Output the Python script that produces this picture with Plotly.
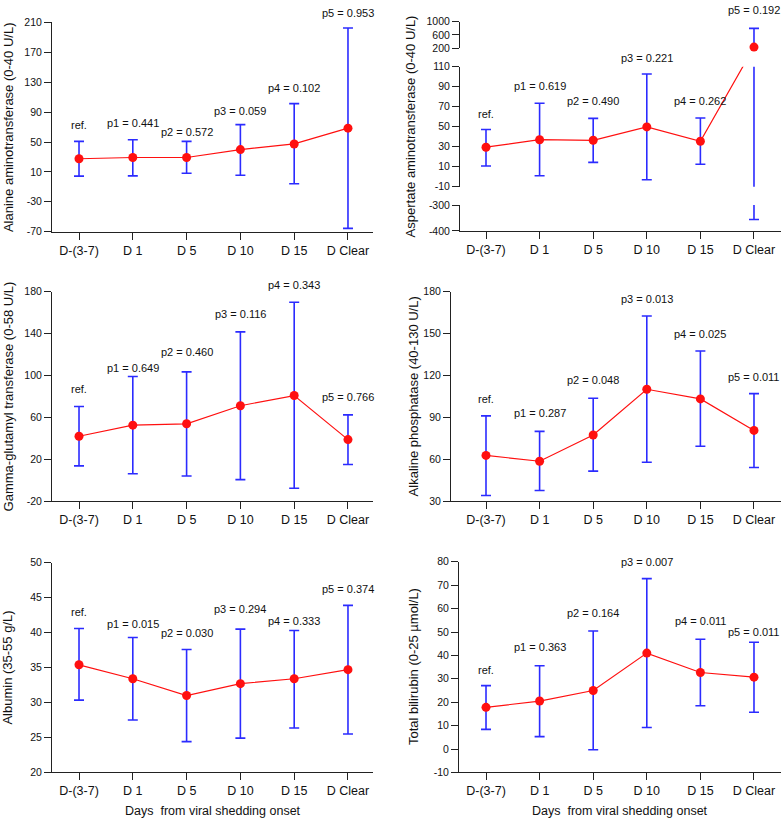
import plotly.graph_objects as go

# ---------------- data ----------------
categories = ["D-(3-7)", "D 1", "D 5", "D 10", "D 15", "D Clear"]

alt_mean = [27.6, 29.3, 29.3, 39.9, 47.4, 68.5]
alt_upper = [50.9, 53.1, 50.9, 73.3, 101.4, 202.5]
alt_lower = [4.3, 4.7, 8.2, 5.6, -5.8, -65.6]
alt_p = ["ref.", "p1 = 0.441", "p2 = 0.572", "p3 = 0.059", "p4 = 0.102", "p5 = 0.953"]
alt_ticks = [-70, -30, 10, 50, 90, 130, 170, 210]

ast_mean = [29.5, 37.0, 36.4, 49.8, 35.4, 230]
ast_upper = [47.2, 73.5, 58.4, 102.8, 58.7, 800]
ast_lower = [10.7, 0.9, 14.3, -3.1, 12.4, -355.7]
ast_p = ["ref.", "p1 = 0.619", "p2 = 0.490", "p3 = 0.221", "p4 = 0.262", "p5 = 0.192"]
ast_ticks_top = [200, 600, 1000]
ast_ticks_mid = [-10, 10, 30, 50, 70, 90, 110]
ast_ticks_bot = [-400, -300]

ggt_mean = [41.9, 52.5, 53.8, 71.1, 80.8, 38.7]
ggt_upper = [70.4, 99.0, 103.4, 141.7, 170.0, 62.3]
ggt_lower = [13.6, 6.1, 3.9, 0.4, -7.8, 14.9]
ggt_p = ["ref.", "p1 = 0.649", "p2 = 0.460", "p3 = 0.116", "p4 = 0.343", "p5 = 0.766"]
ggt_ticks = [-20, 20, 60, 100, 140, 180]

alp_mean = [62.7, 58.5, 77.3, 110.1, 103.2, 80.6]
alp_upper = [91.0, 79.9, 103.7, 162.6, 137.6, 107.0]
alp_lower = [34.0, 37.5, 51.4, 57.8, 69.3, 54.0]
alp_p = ["ref.", "p1 = 0.287", "p2 = 0.048", "p3 = 0.013", "p4 = 0.025", "p5 = 0.011"]
alp_ticks = [30, 60, 90, 120, 150, 180]

alb_mean = [35.4, 33.4, 31.0, 32.7, 33.4, 34.7]
alb_upper = [40.6, 39.3, 37.6, 40.5, 40.3, 43.9]
alb_lower = [30.35, 27.5, 24.4, 24.9, 26.35, 25.5]
alb_p = ["ref.", "p1 = 0.015", "p2 = 0.030", "p3 = 0.294", "p4 = 0.333", "p5 = 0.374"]
alb_ticks = [20, 25, 30, 35, 40, 45, 50]

tbil_mean = [17.8, 20.5, 25.0, 41.0, 32.7, 30.7]
tbil_upper = [27.1, 35.6, 50.4, 72.8, 46.9, 45.6]
tbil_lower = [8.4, 5.3, -0.3, 9.2, 18.5, 15.7]
tbil_p = ["ref.", "p1 = 0.363", "p2 = 0.164", "p3 = 0.007", "p4 = 0.011", "p5 = 0.011"]
tbil_ticks = [-10, 0, 10, 20, 30, 40, 50, 60, 70, 80]

x_title = "Days \u00a0from viral shedding onset"

# ---------------- style ----------------
W, H = 784, 826
RED = "#ff1010"
BLUE = "#2b2bff"
AX = "#222222"
FONT = "Liberation Sans, Arial, sans-serif"


def dx(a, b):
    return [a / W, b / W]


def dy(top, bottom):
    return [1 - bottom / H, 1 - top / H]


def ref(kind, i):
    return kind if i == 1 else f"{kind}{i}"


def key(kind, i):
    return f"{kind}axis" if i == 1 else f"{kind}axis{i}"


fig = go.Figure()
layout = {}
annotations = []

xstyle = dict(type="category", showline=True, linecolor=AX, linewidth=1, ticks="outside",
              ticklen=7, tickwidth=1, tickcolor=AX, showgrid=False, zeroline=False,
              tickfont=dict(size=12.5, color="#111", family=FONT), fixedrange=True)
ystyle = dict(showline=True, linecolor=AX, linewidth=1, ticks="outside", ticklen=7,
              tickwidth=1, tickcolor=AX, showgrid=False, zeroline=False,
              tickfont=dict(size=10.5, color="#111", family=FONT), tickmode="array",
              fixedrange=True)


def err(mean, upper, lower):
    return dict(type="data", symmetric=False,
                array=[u - m for u, m in zip(upper, mean)],
                arrayminus=[m - l for m, l in zip(mean, lower)],
                color=BLUE, thickness=1.6, width=5)


def p_labels(i_x, yref, xs, ys, texts, shifts):
    for xv, yv, t, s in zip(xs, ys, texts, shifts):
        annotations.append(dict(x=xv, y=yv, xref=i_x, yref=yref, text=t, showarrow=False,
                                yanchor="middle", yshift=s,
                                font=dict(size=11, color="#111", family=FONT)))


def y_title(text, xpx, top, bottom):
    annotations.append(dict(x=xpx / W, y=1 - (top + bottom) / 2 / H, xref="paper", yref="paper",
                            text=text, textangle=-90, showarrow=False, xanchor="center",
                            yanchor="middle", font=dict(size=13, color="#111", family=FONT)))


def panel(i, mean, upper, lower, ptexts, shifts, xdom, xrng, ydom_px, yrng, ticks, title, title_x):
    fig.add_trace(go.Scatter(x=categories, y=mean, mode="lines+markers",
                             line=dict(color=RED, width=1.2),
                             marker=dict(color=RED, size=9),
                             error_y=err(mean, upper, lower),
                             xaxis=ref("x", i), yaxis=ref("y", i), showlegend=False,
                             hoverinfo="skip"))
    layout[key("x", i)] = dict(xstyle, domain=dx(*xdom), range=xrng, anchor=ref("y", i))
    layout[key("y", i)] = dict(ystyle, domain=dy(*ydom_px), range=yrng, anchor=ref("x", i),
                               tickvals=ticks, ticktext=[str(t) for t in ticks])
    p_labels(ref("x", i), ref("y", i), categories, upper, ptexts, shifts)
    y_title(title, title_x, *ydom_px)


L_X = (52, 373)
L_RNG = [-0.502, 5.465]

panel(1, alt_mean, alt_upper, alt_lower, alt_p, [16, 17, 9, 14, 16, 15],
      L_X, L_RNG, (16.7, 229), [-70, 210], alt_ticks,
      "Alanine aminotransferase (0-40 U/L)", 8)
panel(3, ggt_mean, ggt_upper, ggt_lower, ggt_p, [17, 9, 20, 18, 17, 18],
      L_X, L_RNG, (290, 502.3), [-20, 180], ggt_ticks,
      "Gamma-glutamyl transferase (0-58 U/L)", 8)
panel(4, alp_mean, alp_upper, alp_lower, alp_p, [17, 18, 18, 17, 17, 17],
      (451, 781), [-0.653, 5.504], (290, 502.3), [30, 180], alp_ticks,
      "Alkaline phosphatase (40-130 U/L)", 413)
panel(5, alb_mean, alb_upper, alb_lower, alb_p, [16, 14, 16, 20, 10, 16],
      L_X, L_RNG, (565, 777.7), [20, 50], alb_ticks,
      "Albumin (35-55 g/L)", 8)
panel(6, tbil_mean, tbil_upper, tbil_lower, tbil_p, [16, 19, 18, 17, 18, 10],
      (459, 781), [-0.504, 5.504], (564, 777.7), [-10, 80], tbil_ticks,
      "Total bilirubin (0-25 \u00b5mol/L)", 413)

# ---------------- AST panel with broken y axis ----------------
top_px, mid_px, bot_px = (16, 42.7), (61.7, 183.3), (202, 228.3)
top_rng, mid_rng, bot_rng = [200, 1000], [-10, 110], [-400, -300]
top_dom, mid_dom, bot_dom = dy(*top_px), dy(*mid_px), dy(*bot_px)
full_dom = [bot_dom[0], top_dom[1]]


def to_paper(v, dom, rng):
    return dom[0] + (v - rng[0]) / (rng[1] - rng[0]) * (dom[1] - dom[0])


def from_paper(f, dom, rng):
    return rng[0] + (f - dom[0]) / (dom[1] - dom[0]) * (rng[1] - rng[0])


def broken_to_mid(v):
    if v > mid_rng[1]:
        return from_paper(to_paper(v, top_dom, top_rng), mid_dom, mid_rng)
    if v < mid_rng[0]:
        return from_paper(to_paper(v, bot_dom, bot_rng), mid_dom, mid_rng)
    return v


# an invisible helper axis over the whole panel with the top segment's scale,
# so that the D Clear dot is not cut at the lower edge of the top segment
dot_rng = [from_paper(full_dom[0], top_dom, top_rng), from_paper(full_dom[1], top_dom, top_rng)]

last = [categories[-1]]
e_all = err(ast_mean, ast_upper, ast_lower)
e_last = err(ast_mean[-1:], ast_upper[-1:], ast_lower[-1:])
clear_marker = dict(color="rgba(0,0,0,0)", size=1)
fig.add_trace(go.Scatter(x=categories, y=ast_mean, mode="markers", marker=clear_marker,
                         error_y=e_all, xaxis="x2", yaxis="y7", showlegend=False, hoverinfo="skip"))
fig.add_trace(go.Scatter(x=last, y=ast_mean[-1:], mode="markers", marker=clear_marker,
                         error_y=e_last, xaxis="x2", yaxis="y8", showlegend=False, hoverinfo="skip"))
fig.add_trace(go.Scatter(x=last, y=ast_mean[-1:], mode="markers", marker=clear_marker,
                         error_y=e_last, xaxis="x2", yaxis="y2", showlegend=False, hoverinfo="skip"))
fig.add_trace(go.Scatter(x=categories, y=[broken_to_mid(v) for v in ast_mean],
                         mode="lines+markers", line=dict(color=RED, width=1.2),
                         marker=dict(color=RED, size=9), xaxis="x2", yaxis="y7",
                         showlegend=False, hoverinfo="skip"))
fig.add_trace(go.Scatter(x=last, y=ast_mean[-1:], mode="markers", marker=dict(color=RED, size=9),
                         xaxis="x2", yaxis="y9", showlegend=False, hoverinfo="skip"))

layout["xaxis2"] = dict(xstyle, domain=dx(460, 781), range=[-0.485, 5.504], anchor="y2")
layout["yaxis2"] = dict(ystyle, domain=bot_dom, range=bot_rng, anchor="x2",
                        tickvals=ast_ticks_bot, ticktext=[str(t) for t in ast_ticks_bot])
layout["yaxis7"] = dict(ystyle, domain=mid_dom, range=mid_rng, anchor="x2",
                        tickvals=ast_ticks_mid, ticktext=[str(t) for t in ast_ticks_mid])
layout["yaxis8"] = dict(ystyle, domain=top_dom, range=top_rng, anchor="x2",
                        tickvals=ast_ticks_top, ticktext=[str(t) for t in ast_ticks_top])
layout["yaxis9"] = dict(domain=full_dom, range=dot_rng, anchor="x2", visible=False,
                        fixedrange=True)
p_labels("x2", "y7", categories[:5], ast_upper[:5], ast_p[:5], [16, 17, 17, 16, 17])
p_labels("x2", "y8", last, ast_upper[-1:], ast_p[-1:], [18])
y_title("Aspertate aminotransferase (0-40 U/L)", 410, top_px[0], bot_px[1])

# ---------------- x titles ----------------
for xd in (dx(*L_X), dx(459, 781)):
    annotations.append(dict(x=(xd[0] + xd[1]) / 2, y=1 - 816.7 / H, xref="paper", yref="paper",
                            text=x_title, showarrow=False, xanchor="center", yanchor="middle",
                            font=dict(size=12.5, color="#111", family=FONT)))

fig.update_layout(width=W, height=H, margin=dict(l=0, r=0, t=0, b=0),
                  paper_bgcolor="white", plot_bgcolor="rgba(0,0,0,0)",
                  font=dict(family=FONT, color="#111"),
                  annotations=annotations, showlegend=False, **layout)

fig.write_html("out.html", config={"displayModeBar": False},
               post_script="document.body.style.margin='0';document.body.style.overflow='hidden';")
